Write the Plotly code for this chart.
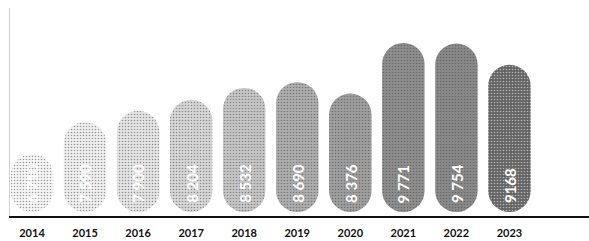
import plotly.graph_objects as go

years = ["2014", "2015", "2016", "2017", "2018", "2019", "2020", "2021", "2022", "2023"]
values = [6710, 7590, 7900, 8204, 8532, 8690, 8376, 9771, 9754, 9168]
labels = ["6 710", "7 590", "7 900", "8 204", "8 532", "8 690", "8 376", "9 771", "9 754", "9168"]
fills = ["#f7f7f7", "#efefef", "#e4e4e4", "#d6d6d6", "#c6c6c6", "#adadad",
         "#9e9e9e", "#8e8e8e", "#898989", "#656565"]
dots = ["#c4c4c4", "#b0b0b0", "#a2a2a2", "#929292", "#808080", "#656565",
        "#575757", "#474747", "#424242", "#282828"]

Y_MIN, Y_MAX = 5000, 10736
BOTTOM = 5110      # bottom of the pill (just above the axis)
LABEL_Y = 5300

n = len(years)
pattern = dict(shape=".", fgcolor=dots, bgcolor=fills, size=3, solidity=0.22)

fig = go.Figure()
# pill-shaped bars: with a base set, all corners are rounded
fig.add_trace(go.Bar(
    x=years, y=[v - BOTTOM for v in values], base=[BOTTOM] * n,
    width=0.8, marker=dict(color=fills, pattern=pattern, cornerradius="50%",
                           line=dict(width=0)),
    customdata=values, hovertemplate="%{x}: %{customdata}<extra></extra>",
    showlegend=False))

for i, lab in enumerate(labels):
    fig.add_annotation(x=i, y=LABEL_Y, xref="x", yref="y", text="<b>" + lab + "</b>",
                       textangle=-90, showarrow=False,
                       xanchor="center", yanchor="bottom",
                       font=dict(family="Lato", size=15, color="white"))

fig.update_layout(
    width=589, height=241, barmode="overlay",
    margin=dict(l=10, r=0, t=8, b=25),
    paper_bgcolor="white", plot_bgcolor="white",
    xaxis=dict(type="category", range=[-0.415, 10.5], showgrid=False, zeroline=False,
               showline=True, linecolor="#111111", linewidth=1.5,
               ticks="", tickfont=dict(family="Lato", size=11, color="#111111", weight="bold"),
               ticklabelstandoff=6),
    yaxis=dict(range=[Y_MIN, Y_MAX], showgrid=False, zeroline=False,
               showline=True, linecolor="#d0d0d0", linewidth=1,
               showticklabels=False, ticks=""),
)
fig.write_html("out.html", config={"displayModeBar": False},
               post_script="document.body.style.margin='0';document.body.style.overflow='hidden';")
